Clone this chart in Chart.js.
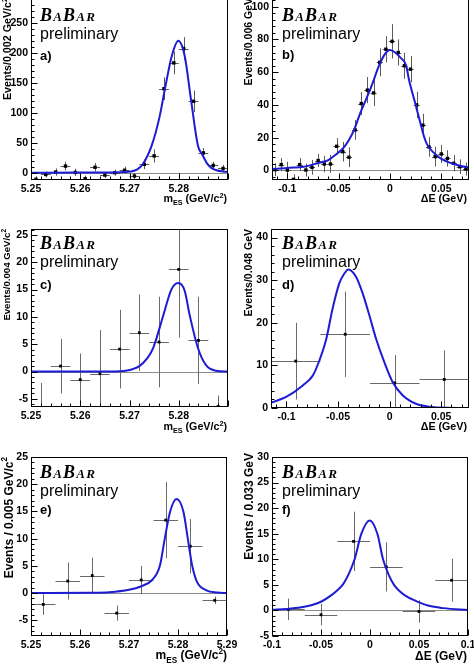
<!DOCTYPE html>
<html><head><meta charset="utf-8">
<script src="https://cdn.jsdelivr.net/npm/chart.js@4.4.1/dist/chart.umd.min.js"></script>
<style>
html,body{margin:0;padding:0;background:#fff;width:474px;height:665px;overflow:hidden;position:relative}
canvas{position:absolute}
</style></head><body>
<canvas id="pa"></canvas><canvas id="pb"></canvas>
<canvas id="pc"></canvas><canvas id="pd"></canvas>
<canvas id="pe"></canvas><canvas id="pf"></canvas>
<script>
// ---------------- data ----------------
// a) mES, 0.002 GeV/c^2 bins
const aBinX = [5.251,5.253,5.255,5.257,5.259,5.261,5.263,5.265,5.267,5.269,5.271,5.273,5.275,5.277,5.279,5.281,5.283,5.285,5.287,5.289];
const aBinY = [-11,-3,1,11,0.5,-10,9,-4,0,4,-5.5,14,28,140,183,207,119,33,12,7];
const aErrY = [5,5,6,7,6,5,7,5,5,6,5,8,11,19,19,19,18,8,6,6];
const aFitX = [5.25,5.26,5.266,5.269,5.2703,5.2715,5.2727,5.2745,5.2761,5.2772,5.2786,5.2799,5.2812,5.2825,5.2839,5.2848,5.2857,5.2866,5.2875,5.289,5.29];
const aFitY = [0,0.1,0.4,1,2,5,14,45,93,140,195,220,195,121,45,30,16,8,4.5,1.8,1.2];
const aXTicks = [5.25,5.26,5.27,5.28];
const aXLabels = ['5.25','5.26','5.27','5.28'];
const aYTicks = [0,50,100,150,200,250];
const aYLabels = ['0','50','100','150','200','250'];

// b) DeltaE, 0.006 GeV bins
const bBinX = [-0.112,-0.106,-0.100,-0.094,-0.088,-0.082,-0.076,-0.070,-0.064,-0.058,-0.052,-0.046,-0.040,-0.034,-0.028,-0.022,-0.016,-0.010,-0.004,0.002,0.008,0.014,0.020,0.026,0.032,0.038,0.044,0.050,0.056,0.062,0.068,0.074];
const bBinY = [0.4,3.5,0.2,-5.5,3.5,0.2,1.8,6,3.9,3.9,14.7,11.4,8,24.7,40.8,49,47.3,66,74,78.8,72,63.9,61.8,40,27.6,14.3,8.4,10,7.3,4.3,2.2,0.8];
const bErrY = [4,4,5,3,4,4,4.5,4,5,5.5,5,6,6,6,7,8,8,8.5,8,10.5,8,8,8,8,7,6,6,5.5,5,5,4.5,4];
const bFitX = [-0.115,-0.1,-0.084,-0.07,-0.06,-0.052,-0.045,-0.04,-0.035,-0.029,-0.0229,-0.0171,-0.011,-0.005,0,0.005,0.01,0.0158,0.0183,0.025,0.03,0.033,0.036,0.04,0.045,0.05,0.06,0.07,0.077];
const bFitY = [0.8,1.5,2.2,4.5,6.3,10,14,18.5,24.7,35,44,53,63.5,71,73.5,72,69,64,56,40,28,21,16,12.5,9.5,7,4.3,2.5,1.8];
const bXTicks = [-0.1,-0.05,0,0.05];
const bXLabels = ['-0.1','-0.05','0','0.05'];
const bYTicks = [0,20,40,60,80,100];
const bYLabels = ['0','20','40','60','80','100'];

// c) mES, 0.004 GeV/c^2 bins
const cBinX = [5.252,5.256,5.260,5.264,5.268,5.272,5.276,5.280,5.284,5.288];
const cBinY = [-6.6,1,-1.5,-0.4,4.1,7.1,5.4,18.7,5.7,-6.4];
const cErrY = [4.5,5,4.8,8,7.2,7,8.3,12.5,8,2];
const cFitX = [5.25,5.266,5.2695,5.272,5.2735,5.2748,5.2769,5.2785,5.2799,5.2812,5.2822,5.2839,5.2855,5.2875,5.29];
const cFitY = [0,0,0.2,1,2.3,4.3,10.4,15,16.2,14.8,10.4,4.3,1.2,0.15,0];
const cXTicks = [5.25,5.26,5.27,5.28];
const cXLabels = ['5.25','5.26','5.27','5.28'];
const cYTicks = [-5,0,5,10,15,20,25];
const cYLabels = ['-5','0','5','10','15','20','25'];

// d) DeltaE, 0.048 GeV bins
const dBinX = [-0.091,-0.043,0.005,0.053];
const dBinY = [11,17.3,5.9,6.7];
const dErrY = [9,10,6.5,6.8];
const dFitX = [-0.115,-0.1003,-0.0842,-0.0745,-0.068,-0.0616,-0.0552,-0.0487,-0.044,-0.04,-0.0326,-0.0261,-0.0197,-0.0132,-0.0052,0.0029,0.0126,0.0255,0.0384,0.055,0.077];
const dFitY = [1.25,2.6,5.3,7.6,11.2,16,23.4,29.3,31.5,32.5,30.8,26.9,21.8,16.3,10.8,6.1,3,1,0.3,0.05,0];
const dXTicks = [-0.1,-0.05,0,0.05];
const dXLabels = ['-0.1','-0.05','0','0.05'];
const dYTicks = [0,10,20,30,40];
const dYLabels = ['0','10','20','30','40'];

// e) mES, 0.005 GeV/c^2 bins
const eBinX = [5.2525,5.2575,5.2625,5.2675,5.2725,5.2775,5.2825,5.2875];
const eBinY = [-2.1,2.2,3.2,-3.7,2.4,13.4,8.6,-1.35];
const eErrY = [1.9,3.4,3.3,1.4,2.6,7,5,0.7];
const eFitX = [5.25,5.262,5.266,5.27,5.2724,5.2746,5.2763,5.2773,5.2784,5.2797,5.2811,5.282,5.2829,5.2839,5.2858,5.288,5.29];
const eFitY = [0,0.05,0.15,0.6,1.2,2.3,5,10,15,17.3,15,10,5,2,0.5,0.1,0];
const eXTicks = [5.25,5.26,5.27,5.28,5.29];
const eXLabels = ['5.25','5.26','5.27','5.28','5.29'];
const eYTicks = [-5,0,5,10,15,20,25];
const eYLabels = ['-5','0','5','10','15','20','25'];

// f) DeltaE, 0.033 GeV bins
const fBinX = [-0.0833,-0.05,-0.0167,0.0167,0.05,0.0833];
const fBinY = [0.2,-0.85,13.5,8.5,-0.2,5.9];
const fErrY = [2.1,2.1,5.8,4.8,2.2,4.2];
const fFitX = [-0.1,-0.085,-0.07,-0.06,-0.05,-0.04,-0.033,-0.0272,-0.022,-0.0157,-0.0088,-0.0003,0.0075,0.0133,0.019,0.0245,0.03,0.036,0.045,0.06,0.075,0.1];
const fFitY = [0.15,0.3,0.6,1.0,1.7,2.9,4,5.2,7,10,15,17.6,15,10,7,5,3.8,2.9,2,0.9,0.45,0.1];
const fXTicks = [-0.1,-0.05,0,0.05,0.1];
const fXLabels = ['-0.1','-0.05','0','0.05','0.1'];
const fYTicks = [-5,0,5,10,15,20,25,30];
const fYLabels = ['-5','0','5','10','15','20','25','30'];

// ---------------- style ----------------
const SANS = '"Liberation Sans", Arial, Helvetica, sans-serif';
const SERIF = '"Liberation Serif", "Times New Roman", serif';
const BLUE = '#1c1cd2';

function richWidth(ctx, segs){let w=0;for(const s of segs){ctx.font=s.f;w+=ctx.measureText(s.t).width;}return w;}
function drawRich(ctx, segs, x, y){let cx=x;for(const s of segs){ctx.font=s.f;ctx.fillText(s.t,cx,y+(s.dy||0));cx+=ctx.measureText(s.t).width;}}
function mesTitle(S){return [{t:'m',f:`bold ${S}px ${SANS}`},{t:'ES',f:`bold ${S*0.68}px ${SANS}`,dy:S*0.32},{t:' (GeV/c',f:`bold ${S}px ${SANS}`},{t:'2',f:`bold ${S*0.68}px ${SANS}`,dy:-S*0.42},{t:')',f:`bold ${S}px ${SANS}`}];}
function deTitle(S){return [{t:'\u0394E (GeV)',f:`bold ${S}px ${SANS}`}];}
function yTitle(txt,S,sup){const a=[{t:txt,f:`bold ${S}px ${SANS}`}];if(sup)a.push({t:'2',f:`bold ${S*0.68}px ${SANS}`,dy:-S*0.42});return a;}

const panelPlugin = {
  id:'panel',
  beforeDatasetsDraw(chart){
    const o=chart.options.plugins.panel, ctx=chart.ctx, A=chart.chartArea, x=chart.scales.x, y=chart.scales.y;
    ctx.save();
    ctx.beginPath();ctx.rect(A.left,A.top,A.right-A.left,A.bottom-A.top);ctx.clip();
    if(o.zero){const py=Math.round(y.getPixelForValue(0))+0.5;ctx.strokeStyle='#8c8c8c';ctx.lineWidth=1;ctx.beginPath();ctx.moveTo(A.left,py);ctx.lineTo(A.right,py);ctx.stroke();}
    ctx.strokeStyle=o.errColor;ctx.lineWidth=1;
    o.bx.forEach((xv,i)=>{
      const yv=o.by[i], e=o.ey[i];
      const px=Math.round(x.getPixelForValue(xv))+0.5, py=Math.round(y.getPixelForValue(yv))+0.5;
      ctx.beginPath();
      ctx.moveTo(px,y.getPixelForValue(yv+e));ctx.lineTo(px,y.getPixelForValue(yv-e));
      ctx.moveTo(x.getPixelForValue(xv-o.hw),py);ctx.lineTo(x.getPixelForValue(xv+o.hw),py);
      ctx.stroke();
    });
    ctx.restore();
  },
  afterDraw(chart){
    const o=chart.options.plugins.panel, ctx=chart.ctx, A=chart.chartArea, x=chart.scales.x, y=chart.scales.y;
    ctx.save();
    // frame
    ctx.strokeStyle='#000';ctx.lineWidth=1;
    const L=Math.round(A.left)+0.5,T=Math.round(A.top)+0.5,R=Math.round(A.right)-0.5,B=Math.round(A.bottom)-0.5;
    ctx.strokeRect(L,T,R-L,B-T);
    // inward ticks
    ctx.beginPath();
    const minorX=o.minorX, minorY=o.minorY;
    for(let k=Math.ceil(x.min/minorX-1e-6);k<=Math.floor(x.max/minorX+1e-6);k++){
      const v=k*minorX, px=Math.round(x.getPixelForValue(v))+0.5;
      const major=Math.abs(v/o.majorX-Math.round(v/o.majorX))<1e-6;
      ctx.moveTo(px,B);ctx.lineTo(px,B-(major?6:3));
    }
    for(let k=Math.ceil(y.min/minorY-1e-6);k<=Math.floor(y.max/minorY+1e-6);k++){
      const v=k*minorY, py=Math.round(y.getPixelForValue(v))+0.5;
      const major=Math.abs(v/o.majorY-Math.round(v/o.majorY))<1e-6;
      ctx.moveTo(L,py);ctx.lineTo(L+(major?6:3),py);
    }
    ctx.stroke();
    // texts (page coordinates -> canvas)
    const ox=o.ox, oy=o.oy;
    ctx.fillStyle='#000';ctx.textBaseline='alphabetic';ctx.textAlign='left';
    // BaBar logo
    let cx=o.babar[0]-ox;
    for(const [ch,sz] of [['B',18],['A',13],['B',18],['A',13],['R',13]]){
      ctx.font=`italic bold ${sz}px ${SERIF}`;ctx.fillText(ch,cx,o.babar[1]-oy);cx+=ctx.measureText(ch).width+1.2;
    }
    ctx.font=`16px ${SANS}`;ctx.fillText('preliminary',o.prelim[0]-ox,o.prelim[1]-oy);
    ctx.font=`bold 13px ${SANS}`;ctx.fillText(o.label,o.lab[0]-ox,o.lab[1]-oy);
    // x title (right aligned)
    const xs=o.xTitle, xw=richWidth(ctx,xs);
    drawRich(ctx,xs,o.xt[0]-ox-xw,o.xt[1]-oy);
    // y title (rotated, right aligned at top)
    const ys=o.yTitle, yw=richWidth(ctx,ys);
    ctx.translate(o.yt[0]-ox,o.yt[1]-oy);ctx.rotate(-Math.PI/2);
    drawRich(ctx,ys,-yw,0);
    ctx.restore();
  }
};

function makePanel(id,p){
  const el=document.getElementById(id);
  const [L,T,R,B]=p.frame;
  const cx=L<237?0:237, cy=T-12, cw=R+22-cx, ch=B+36-cy;
  el.width=cw;el.height=ch;
  el.style.left=cx+'px';el.style.top=cy+'px';el.style.width=cw+'px';el.style.height=ch+'px';
  const tickFont={family:SANS,size:10.5,weight:'bold'};
  new Chart(el,{
    type:'scatter',
    data:{datasets:[
      {type:'line',data:p.fitX.map((v,i)=>({x:v,y:p.fitY[i]})),borderColor:BLUE,borderWidth:2,pointRadius:0,fill:false,cubicInterpolationMode:'monotone',order:0},
      {type:'scatter',data:p.binX.map((v,i)=>({x:v,y:p.binY[i]})),pointStyle:'rect',pointRadius:p.mr,backgroundColor:'#000',borderColor:'#000',borderWidth:0,order:1}
    ]},
    options:{
      responsive:false,animation:false,devicePixelRatio:1,
      layout:{padding:{top:12,right:22,bottom:0,left:0}},
      plugins:{legend:{display:false},tooltip:{enabled:false},
        panel:{ox:cx,oy:cy,zero:p.zero,bx:p.binX,by:p.binY,ey:p.errY,hw:p.hw,errColor:p.errColor,
          majorX:p.majorX,minorX:p.minorX,majorY:p.majorY,minorY:p.minorY,
          babar:p.babar,prelim:p.prelim,lab:p.lab,label:p.label,xt:p.xt,xTitle:p.xTitle,yt:p.yt,yTitle:p.yTitle}},
      scales:{
        x:{type:'linear',position:'bottom',min:p.xMin,max:p.xMax,
          grid:{display:false,drawTicks:false},border:{display:false},
          ticks:{font:tickFont,color:'#000',padding:3,maxRotation:0,minRotation:0,autoSkip:false,callback:(v,i)=>p.xLabels[i]},
          afterBuildTicks:s=>{s.ticks=p.xTicks.map(v=>({value:v}));},
          afterFit:s=>{s.height=ch-B+cy;}},
        y:{type:'linear',position:'left',min:p.yMin,max:p.yMax,
          grid:{display:false,drawTicks:false},border:{display:false},
          ticks:{font:tickFont,color:'#000',padding:3,autoSkip:false,callback:(v,i)=>p.yLabels[i]},
          afterBuildTicks:s=>{s.ticks=p.yTicks.map(v=>({value:v}));},
          afterFit:s=>{s.width=L-cx;}}
      }
    },
    plugins:[panelPlugin]
  });
}

makePanel('pa',{frame:[31,-2,228,180],xMin:5.25,xMax:5.29,yMin:-12.2,yMax:291.2,
  binX:aBinX,binY:aBinY,errY:aErrY,fitX:aFitX,fitY:aFitY,xTicks:aXTicks,xLabels:aXLabels,yTicks:aYTicks,yLabels:aYLabels,
  hw:0.001,mr:2.4,zero:true,errColor:'#5a5a5a',majorX:0.01,minorX:0.002,majorY:50,minorY:10,
  babar:[40,21],prelim:[40,38.5],lab:[40,60],label:'a)',xt:[227,202],xTitle:mesTitle(10.7),yt:[11,-2],yTitle:yTitle('Events/0.002 GeV/c',10.7,true)});
makePanel('pb',{frame:[272,-2,469,180],xMin:-0.115,xMax:0.077,yMin:-5.9,yMax:105.3,
  binX:bBinX,binY:bBinY,errY:bErrY,fitX:bFitX,fitY:bFitY,xTicks:bXTicks,xLabels:bXLabels,yTicks:bYTicks,yLabels:bYLabels,
  hw:0.003,mr:2.4,zero:true,errColor:'#5a5a5a',majorX:0.05,minorX:0.01,majorY:20,minorY:4,
  babar:[282,21],prelim:[282,38.5],lab:[282,59],label:'b)',xt:[467,202],xTitle:deTitle(10.7),yt:[252,-2],yTitle:yTitle('Events/0.006 GeV',10.5,false)});
makePanel('pc',{frame:[31,229,228,407],xMin:5.25,xMax:5.29,yMin:-6.5,yMax:26.1,
  binX:cBinX,binY:cBinY,errY:cErrY,fitX:cFitX,fitY:cFitY,xTicks:cXTicks,xLabels:cXLabels,yTicks:cYTicks,yLabels:cYLabels,
  hw:0.002,mr:2,zero:true,errColor:'#6a6a6a',majorX:0.01,minorX:0.002,majorY:5,minorY:1,
  babar:[40,249],prelim:[40,267],lab:[40,289],label:'c)',xt:[227,430],xTitle:mesTitle(10.7),yt:[10,229],yTitle:yTitle('Events/0.004 GeV/c',9.6,true)});
makePanel('pd',{frame:[271,229,469,408],xMin:-0.115,xMax:0.077,yMin:0,yMax:42,
  binX:dBinX,binY:dBinY,errY:dErrY,fitX:dFitX,fitY:dFitY,xTicks:dXTicks,xLabels:dXLabels,yTicks:dYTicks,yLabels:dYLabels,
  hw:0.024,mr:2,zero:false,errColor:'#6a6a6a',majorX:0.05,minorX:0.01,majorY:10,minorY:2,
  babar:[282,249],prelim:[282,267],lab:[282,289],label:'d)',xt:[467,430],xTitle:deTitle(10.7),yt:[252,229],yTitle:yTitle('Events/0.048 GeV',10.5,false)});
makePanel('pe',{frame:[31,457,227,636],xMin:5.25,xMax:5.29,yMin:-7.9,yMax:25,
  binX:eBinX,binY:eBinY,errY:eErrY,fitX:eFitX,fitY:eFitY,xTicks:eXTicks,xLabels:eXLabels,yTicks:eYTicks,yLabels:eYLabels,
  hw:0.0025,mr:2,zero:true,errColor:'#6a6a6a',majorX:0.01,minorX:0.002,majorY:5,minorY:1,
  babar:[40,477.5],prelim:[40,495.5],lab:[40,514],label:'e)',xt:[227,659],xTitle:mesTitle(12),yt:[12.5,457],yTitle:yTitle('Events / 0.005 GeV/c',12,true)});
makePanel('pf',{frame:[272,457,468,636],xMin:-0.1,xMax:0.1,yMin:-5,yMax:30,
  binX:fBinX,binY:fBinY,errY:fErrY,fitX:fFitX,fitY:fFitY,xTicks:fXTicks,xLabels:fXLabels,yTicks:fYTicks,yLabels:fYLabels,
  hw:0.01667,mr:2,zero:true,errColor:'#6a6a6a',majorX:0.05,minorX:0.01,majorY:5,minorY:1,
  babar:[282,477.5],prelim:[282,495.5],lab:[282,514],label:'f)',xt:[467,660],xTitle:deTitle(12),yt:[253,453],yTitle:yTitle('Events / 0.033 GeV',12,false)});
</script>
</body></html>
